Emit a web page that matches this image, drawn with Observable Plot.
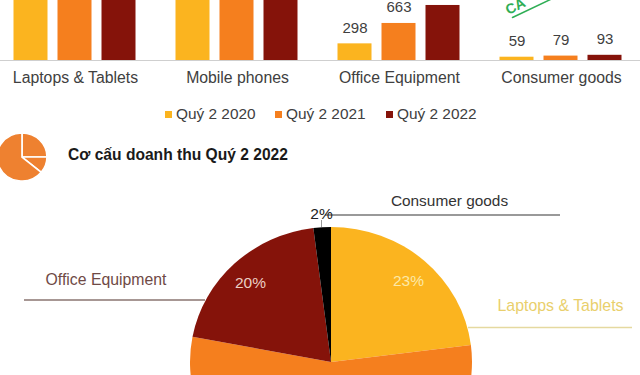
<!DOCTYPE html>
<html><head><meta charset="utf-8">
<script src="https://cdn.jsdelivr.net/npm/d3@7"></script>
<script src="https://cdn.jsdelivr.net/npm/@observablehq/plot@0.6"></script>
<style>
html,body{margin:0;padding:0;background:#fff;overflow:hidden}
#wrap{position:relative;width:640px;height:375px;overflow:hidden;font-family:"Liberation Sans",Arial,sans-serif}
#wrap svg{position:absolute;left:0;top:0;background:transparent}
.lg{position:absolute;top:105px;font-size:15.4px;line-height:18px;color:#404040;white-space:nowrap}
.sw{position:absolute;top:111px;width:7px;height:7px}
#title{position:absolute;left:68px;top:146px;font-size:15.6px;line-height:18px;font-weight:bold;color:#1a1a1a;white-space:nowrap}
</style></head><body><div id="wrap"></div>
<script>
const categories = ["Laptops & Tablets","Mobile phones","Office Equipment","Consumer goods"];
const periods = ["Quý 2 2020","Quý 2 2021","Quý 2 2022"];
const periodColors = ["#FBB41F","#F57F1E","#85130A"];
const values2020 = [1100,2300,298,59];
const values2021 = [1300,2500,663,79];
const values2022 = [1133,2709,985,93];
const pieLabels = ["Laptops & Tablets","Mobile phones","Office Equipment","Consumer goods"];
const pieShares = [23,55,20,2];
const pieColors = ["#FBB41F","#F57F1E","#85130A","#000000"];
const iconShares = [25,11,64];
const titleText = "Cơ cấu doanh thu Quý 2 2022";

const bars = categories.flatMap((c,i)=>[values2020,values2021,values2022].map((v,j)=>({category:c,period:periods[j],value:v[i]})));
const wrap = document.getElementById("wrap");

const barPlot = Plot.plot({
  width:640,height:95,marginTop:0,marginBottom:35,marginLeft:-6.5,marginRight:-1.5,
  style:{fontFamily:'"Liberation Sans",Arial,sans-serif',background:"transparent"},
  fx:{domain:categories,padding:0,label:null},
  x:{domain:periods,paddingInner:0.217,paddingOuter:0.42,axis:null},
  y:{domain:[0,1074],axis:null},
  color:{domain:periods,range:periodColors},
  marks:[
    Plot.barY(bars,{fx:"category",x:"period",y:"value",fill:"period",clip:true}),
    Plot.ruleY([0],{stroke:"#cfcfcf",strokeWidth:1}),
    Plot.text(bars,{filter:d=>d.value<700,fx:"category",x:"period",y:"value",text:"value",dy:-16,fontSize:15,fill:"#404040"}),
    Plot.axisFx({anchor:"bottom",tickSize:0,tickPadding:11,fontSize:15.8,fill:"#404040",label:null})
  ]
});
wrap.append(barPlot);

function pieMark(shares,colors,cx,cy,rx,ry,stroke){
  return (index,scales)=>{
    const g=d3.create("svg:g").attr("transform",`translate(${scales.x(cx)},${scales.y(cy)}) scale(${rx/ry},1)`);
    const arcs=d3.pie().sort(null)(shares);
    const arc=d3.arc().innerRadius(0).outerRadius(ry);
    g.selectAll("path").data(arcs).join("path").attr("d",arc).attr("fill",(d,i)=>colors[i])
      .attr("stroke",stroke||"none").attr("stroke-width",stroke?1.6:0);
    return g.node();
  };
}

const overlay = Plot.plot({
  width:640,height:375,margin:0,
  style:{fontFamily:'"Liberation Sans",Arial,sans-serif',background:"transparent"},
  x:{domain:[0,640],range:[0,640],axis:null},
  y:{domain:[0,375],range:[0,375],axis:null},
  marks:[
    pieMark(iconShares,["#EE8130","#EE8130","#EE8130"],22,157,25,24,"#fff"),
    pieMark(pieShares,pieColors,331,362,141,135),
    Plot.ruleY([214.5],{x1:325,x2:560,stroke:"#777",strokeWidth:1.5}),
    Plot.ruleX([321],{y1:220,y2:227,stroke:"#999",strokeWidth:1}),
    Plot.ruleY([327],{x1:468,x2:632,stroke:"#E5D9A0",strokeWidth:1.5}),
    Plot.ruleY([299.5],{x1:24,x2:205,stroke:"#8a7470",strokeWidth:1.5}),
    Plot.text([pieLabels[3]],{x:449,y:201,text:d=>d,fontSize:15.4,fill:"#333"}),
    Plot.text([pieLabels[0]],{x:560,y:305,text:d=>d,fontSize:15.9,fill:"#E9CF6C"}),
    Plot.text([pieLabels[2]],{x:105.5,y:279,text:d=>d,fontSize:15.8,fill:"#6f4a46"}),
    Plot.text([pieShares[0]],{x:408,y:281,text:d=>d+"%",fontSize:15.5,fill:"#FBE9A8"}),
    Plot.text([pieShares[2]],{x:250,y:283,text:d=>d+"%",fontSize:15.5,fill:"#EBCFC4"}),
    Plot.text([pieShares[3]],{x:321,y:214,text:d=>d+"%",fontSize:15.5,fill:"#222"}),
    Plot.text(["CA"],{x:515,y:6,text:d=>d,fontSize:14,fontWeight:"bold",fill:"#2FAE55",rotate:-27}),
    Plot.line([[512,17],[552,-2]],{stroke:"#2FAE55",strokeWidth:1.5})
  ]
});
wrap.append(overlay);

const swLeft=[165,275,386], txtLeft=[176,286,397];
periods.forEach((p,i)=>{
  const s=document.createElement("div");s.className="sw";s.style.left=swLeft[i]+"px";s.style.background=periodColors[i];wrap.append(s);
  const t=document.createElement("div");t.className="lg";t.style.left=txtLeft[i]+"px";t.textContent=p;wrap.append(t);
});
const tt=document.createElement("div");tt.id="title";tt.textContent=titleText;wrap.append(tt);
</script></body></html>
